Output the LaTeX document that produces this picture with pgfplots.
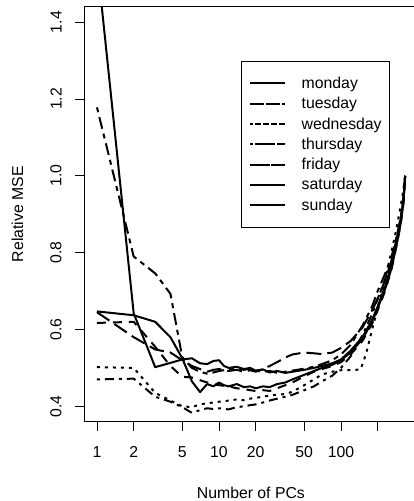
\documentclass[border=0pt]{standalone}
\usepackage{fontspec}
\setmainfont{Liberation Sans}
\usepackage{pgfplots}
\pgfplotsset{compat=1.18}
\newcommand{\rf}{\fontsize{15.8bp}{19bp}\selectfont}
\begin{document}
\begin{tikzpicture}
\useasboundingbox (0,0) rectangle (414bp,501bp);
\begin{axis}[
  at={(84.3bp,79.3bp)}, anchor=south west,
  scale only axis, width=333.2bp, height=415bp,
  xmode=log, xmin=0.7875, xmax=424, ymin=0.36, ymax=1.44,
  axis line style={line width=0.8bp, black},
  xtick={1,2,5,10,20,50,100,200},
  xticklabels={1,2,5,10,20,50,100,{}},
  ytick={0.4,0.6,0.8,1.0,1.2,1.4},
  yticklabels={0.4,0.6,0.8,1.0,1.2,1.4},
  minor tick num=0, minor xtick={},
  tick pos=left, tick align=outside, major tick length=9bp,
  tick style={line width=0.8bp, black},
  tick label style={font=\rf, inner sep=0pt},
  xticklabel style={anchor=north},
  yticklabel style={rotate=90, anchor=south},
  xticklabel shift=15.7bp, yticklabel shift=13.6bp,
  xlabel={Number of PCs}, ylabel={Relative MSE},
  label style={font=\rf},
  xlabel style={at={(axis description cs:0.5,-0.1718)}, anchor=center},
  ylabel style={at={(axis description cs:-0.2005,0.5)}, anchor=center},
  legend style={at={(0.4694,0.8692)}, anchor=north west, draw=black,
    line width=0.8bp, fill=white, inner xsep=7.7bp, inner ysep=11.9bp,
    row sep=0pt, column sep=15.3bp, font=\rf,
    nodes={inner sep=0pt, anchor=west, minimum height=20.3bp}},
  legend cell align=left,
  legend image code/.code={\path (-5.6bp,0bp) -- (30bp,0bp); \draw[#1] (0bp,0bp) -- (30bp,0bp);},
  every axis plot/.append style={line width=2bp, black, line join=round, line cap=butt},
]
% monday
\addplot[solid] coordinates {(1,0.647)(2,0.637)(3,0.62)(4,0.58)(5,0.525)(6,0.465)(7,0.437)(8,0.458)(9,0.452)(10,0.462)(11,0.455)(12,0.452)(14,0.458)(16,0.450)(18,0.452)(20,0.447)(23,0.452)(26,0.450)(30,0.458)(35,0.462)(40,0.470)(50,0.482)(60,0.492)(70,0.500)(85,0.508)(100,0.520)(120,0.540)(150,0.575)(180,0.620)(200,0.655)(230,0.705)(260,0.760)(290,0.830)(310,0.880)(325,0.930)(336,1.0)};
\addlegendentry{monday}
% tuesday
\addplot[dash pattern=on 9bp off 7bp] coordinates {(1,0.617)(2,0.620)(3,0.555)(4,0.505)(5,0.477)(6,0.475)(7,0.468)(8,0.462)(9,0.458)(10,0.455)(12,0.452)(14,0.447)(16,0.445)(18,0.442)(20,0.440)(23,0.442)(26,0.440)(30,0.447)(35,0.455)(40,0.462)(50,0.478)(60,0.490)(70,0.497)(85,0.505)(100,0.515)(120,0.535)(150,0.570)(180,0.615)(200,0.650)(230,0.700)(260,0.758)(290,0.828)(310,0.878)(325,0.928)(336,1.0)};
\addlegendentry{tuesday}
% wednesday
\addplot[dash pattern=on 3bp off 5bp] coordinates {(1,0.502)(2,0.500)(3,0.435)(4,0.415)(5,0.400)(6,0.398)(7,0.405)(8,0.408)(9,0.410)(10,0.412)(12,0.415)(14,0.418)(16,0.416)(18,0.420)(20,0.422)(23,0.425)(26,0.428)(30,0.430)(35,0.432)(40,0.438)(50,0.455)(60,0.470)(70,0.483)(85,0.490)(100,0.494)(120,0.494)(145,0.496)(160,0.535)(180,0.600)(200,0.655)(220,0.705)(240,0.755)(260,0.805)(280,0.850)(300,0.900)(320,0.950)(336,1.0)};
\addlegendentry{wednesday}
% thursday
\addplot[dash pattern=on 3bp off 5bp on 9bp off 5bp] coordinates {(1,0.470)(2,0.472)(3,0.425)(4,0.412)(5,0.398)(6,0.383)(7,0.390)(8,0.395)(9,0.393)(10,0.395)(12,0.392)(14,0.398)(16,0.400)(18,0.403)(20,0.405)(23,0.410)(26,0.415)(30,0.420)(35,0.425)(40,0.430)(50,0.442)(60,0.452)(70,0.465)(85,0.480)(100,0.500)(120,0.530)(150,0.585)(180,0.640)(200,0.680)(230,0.730)(260,0.780)(290,0.845)(310,0.890)(325,0.935)(336,1.0)};
\addlegendentry{thursday}
% friday
\addplot[dash pattern=on 15bp off 6bp] coordinates {(1,0.645)(2,0.580)(3,0.548)(4,0.540)(5,0.520)(6,0.505)(7,0.497)(8,0.490)(9,0.495)(10,0.497)(12,0.492)(14,0.495)(16,0.490)(18,0.494)(20,0.490)(23,0.497)(26,0.505)(30,0.515)(35,0.527)(40,0.535)(50,0.540)(60,0.538)(70,0.536)(85,0.540)(100,0.552)(120,0.570)(150,0.605)(180,0.650)(200,0.680)(230,0.728)(260,0.778)(290,0.845)(310,0.890)(325,0.935)(336,1.0)};
\addlegendentry{friday}
% saturday
\addplot[dash pattern=on 5bp off 5bp on 12bp off 5bp] coordinates {(1,1.178)(2,0.790)(3,0.746)(4,0.693)(5,0.528)(6,0.500)(7,0.490)(8,0.485)(9,0.488)(10,0.492)(12,0.496)(14,0.500)(16,0.495)(18,0.498)(20,0.493)(23,0.490)(26,0.492)(30,0.487)(35,0.490)(40,0.493)(50,0.498)(60,0.503)(70,0.510)(85,0.520)(100,0.535)(120,0.560)(150,0.610)(180,0.660)(200,0.700)(230,0.745)(260,0.790)(290,0.850)(310,0.895)(325,0.940)(336,1.0)};
\addlegendentry{saturday}
% sunday
\addplot[solid] coordinates {(1,1.56)(2,0.642)(3,0.502)(4,0.513)(5,0.522)(6,0.525)(7,0.512)(8,0.510)(9,0.518)(10,0.520)(11,0.505)(12,0.500)(14,0.503)(16,0.497)(18,0.500)(20,0.493)(23,0.496)(26,0.488)(30,0.492)(35,0.487)(40,0.490)(50,0.495)(60,0.500)(70,0.505)(85,0.512)(100,0.522)(120,0.545)(150,0.580)(180,0.625)(200,0.660)(230,0.712)(260,0.768)(290,0.838)(310,0.885)(325,0.935)(336,1.0)};
\addlegendentry{sunday}
\end{axis}
\end{tikzpicture}
\end{document}
